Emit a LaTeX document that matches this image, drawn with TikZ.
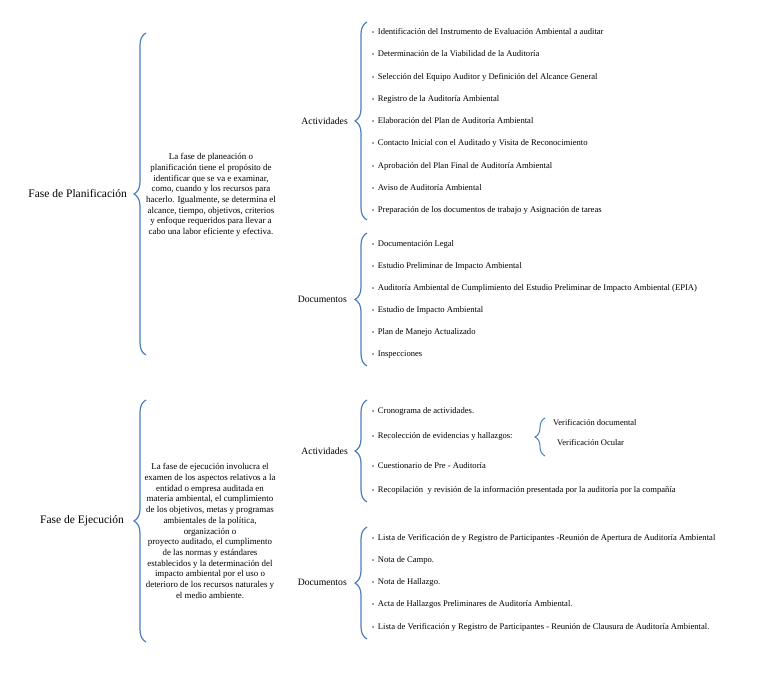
\documentclass[tikz,border=0pt]{standalone}
\usepackage{fontspec}
\setmainfont{Liberation Serif}
\usetikzlibrary{decorations.pathreplacing,positioning}
\definecolor{brblue}{HTML}{4A7EBB}
\tikzset{
  brc/.style   ={draw=brblue,line width=1.2pt,decorate,
                 decoration={brace,amplitude=12pt}},
  sbrc/.style  ={draw=brblue,line width=1pt,decorate,
                 decoration={brace,amplitude=10pt}},
  fase/.style  ={anchor=east,font=\fontsize{11.5}{13}\selectfont,inner sep=0pt},
  grp/.style   ={anchor=east,font=\fontsize{9.7}{11}\selectfont,inner sep=0pt},
  desc/.style  ={align=center,font=\fontsize{8.9}{10.7}\selectfont,inner sep=0pt},
  itm/.style   ={anchor=west,font=\fontsize{8.6}{10}\selectfont,inner sep=0pt},
  sub/.style   ={anchor=west,font=\fontsize{8.5}{10}\selectfont,inner sep=0pt},
}
\newcommand{\bl}{{\fontsize{6}{6}\selectfont\textbullet}\hspace{3.6pt}}

\begin{document}
\begin{tikzpicture}[x=1pt,y=-1pt]
  \useasboundingbox[fill=white] (0,0) rectangle (768,695);

  % Fase de Planificacion
  \coordinate (p1t) at (146,33);
  \coordinate (p1b) at (146,355);
  \draw[brc] (p1b) -- (p1t);
  \node[fase] (fp) at (127,194) {Fase de Planificación};
  \node[desc] (dp) at (211,195)
        {La fase de planeación o\\ planificación tiene el propósito de\\
         identificar que se va e examinar,\\ como, cuando y los recursos para\\
         hacerlo. Igualmente, se determina el\\ alcance, tiempo, objetivos, criterios\\
         y enfoque requeridos para llevar a\\ cabo una labor eficiente y efectiva.};

  % actividades (planificacion)
  \coordinate (a1t) at (367,22);
  \coordinate (a1b) at (367,220);
  \draw[brc] (a1b) -- (a1t);
  \node[grp] (a1) at (348,121) {Actividades};
  \node[itm] (a1i1) at (372,32)  {\bl Identificación del Instrumento de Evaluación Ambiental a auditar};
  \node[itm] (a1i2) at (372,54)  {\bl Determinación de la Viabilidad de la Auditoría};
  \node[itm] (a1i3) at (372,77)  {\bl Selección del Equipo Auditor y Definición del Alcance General};
  \node[itm] (a1i4) at (372,99)  {\bl Registro de la Auditoría Ambiental};
  \node[itm] (a1i5) at (372,121) {\bl Elaboración del Plan de Auditoría Ambiental};
  \node[itm] (a1i6) at (372,143) {\bl Contacto Inicial con el Auditado y Visita de Reconocimiento};
  \node[itm] (a1i7) at (372,166) {\bl Aprobación del Plan Final de Auditoría Ambiental};
  \node[itm] (a1i8) at (372,188) {\bl Aviso de Auditoría Ambiental};
  \node[itm] (a1i9) at (372,210) {\bl Preparación de los documentos de trabajo y Asignación de tareas};

  % documentos (planificacion)
  \coordinate (d1t) at (367,233);
  \coordinate (d1b) at (367,366);
  \draw[brc] (d1b) -- (d1t);
  \node[grp] (d1) at (347,299) {Documentos};
  \node[itm] (d1i1) at (372,244) {\bl Documentación Legal};
  \node[itm] (d1i2) at (372,266) {\bl Estudio Preliminar de Impacto Ambiental};
  \node[itm] (d1i3) at (372,288) {\bl Auditoría Ambiental de Cumplimiento del Estudio Preliminar de Impacto Ambiental (EPIA)};
  \node[itm] (d1i4) at (372,310) {\bl Estudio de Impacto Ambiental};
  \node[itm] (d1i5) at (372,332) {\bl Plan de Manejo Actualizado};
  \node[itm] (d1i6) at (372,355) {\bl Inspecciones};

  % Fase de Ejecucion
  \coordinate (p2t) at (146,400);
  \coordinate (p2b) at (146,642);
  \draw[brc] (p2b) -- (p2t);
  \node[fase] (fe) at (124,521) {Fase de Ejecución};
  \node[desc] (de) at (210,531)
        {La fase de ejecución involucra el\\ examen de los aspectos relativos a la\\
         entidad o empresa auditada en\\ materia ambiental, el cumplimiento\\
         de los objetivos, metas y programas\\ ambientales de la política,\\
         organización o\\ proyecto auditado, el cumplimento\\
         de las normas y estándares\\ establecidos y la determinación del\\
         impacto ambiental por el uso o\\ deterioro de los recursos naturales y\\
         el medio ambiente.};

  % actividades (ejecucion)
  \coordinate (a2t) at (367,400);
  \coordinate (a2b) at (367,502);
  \draw[brc] (a2b) -- (a2t);
  \node[grp] (a2) at (348,451) {Actividades};
  \node[itm] (a2i1) at (372,411) {\bl Cronograma de actividades.};
  \node[itm] (a2i2) at (372,436) {\bl Recolección de evidencias y hallazgos:};
  \node[itm] (a2i3) at (372,466) {\bl Cuestionario de Pre - Auditoría};
  \node[itm] (a2i4) at (372,490) {\bl Recopilación\ \ y revisión de la información presentada por la auditoría por la compañía};
  \coordinate (vt) at (545,418);
  \coordinate (vb) at (545,456);
  \draw[sbrc] (vb) -- (vt);
  \node[sub] (v1) at (553,423) {Verificación documental};
  \node[sub] (v2) at (557,443) {Verificación Ocular};

  % documentos (ejecucion)
  \coordinate (d2t) at (367,527);
  \coordinate (d2b) at (367,639);
  \draw[brc] (d2b) -- (d2t);
  \node[grp] (d2) at (347,582) {Documentos};
  \node[itm] (d2i1) at (372,538) {\bl Lista de Verificación de y Registro de Participantes -Reunión de Apertura de Auditoría Ambiental};
  \node[itm] (d2i2) at (372,560) {\bl Nota de Campo.};
  \node[itm] (d2i3) at (372,582) {\bl Nota de Hallazgo.};
  \node[itm] (d2i4) at (372,604) {\bl Acta de Hallazgos Preliminares de Auditoría Ambiental.};
  \node[itm] (d2i5) at (372,627) {\bl Lista de Verificación y Registro de Participantes - Reunión de Clausura de Auditoría Ambiental.};
\end{tikzpicture}
\end{document}
